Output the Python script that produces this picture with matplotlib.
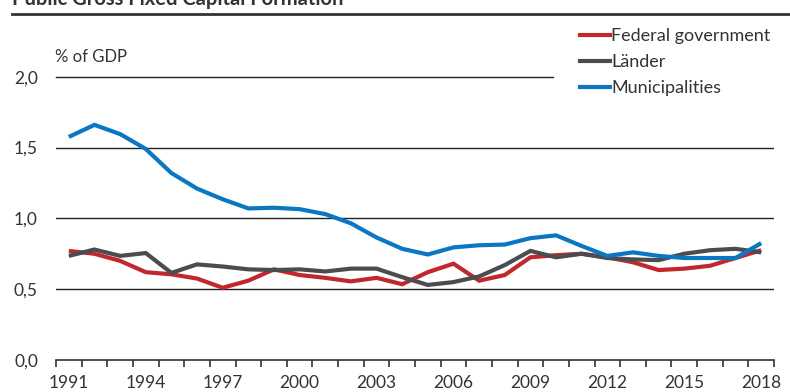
import matplotlib
matplotlib.use("Agg")
import matplotlib.pyplot as plt
from matplotlib.lines import Line2D
import numpy as np

plt.rcParams['font.family'] = ['Lato', 'DejaVu Sans']

years = list(range(1991, 2019))

federal = [0.77, 0.75, 0.70, 0.62, 0.605, 0.575, 0.51, 0.56, 0.64, 0.60,
           0.58, 0.555, 0.58, 0.535, 0.62, 0.68, 0.56, 0.60, 0.725, 0.74,
           0.75, 0.725, 0.69, 0.635, 0.645, 0.665, 0.72, 0.775]
laender = [0.735, 0.78, 0.735, 0.755, 0.615, 0.675, 0.66, 0.64, 0.635, 0.64,
           0.625, 0.645, 0.645, 0.585, 0.53, 0.55, 0.59, 0.67, 0.77, 0.725,
           0.75, 0.72, 0.71, 0.705, 0.75, 0.775, 0.785, 0.76]
municipalities = [1.575, 1.66, 1.595, 1.49, 1.32, 1.21, 1.135, 1.07, 1.075, 1.065,
                  1.03, 0.965, 0.865, 0.785, 0.745, 0.795, 0.81, 0.815, 0.86, 0.88,
                  0.805, 0.735, 0.76, 0.735, 0.72, 0.72, 0.72, 0.825]

series_names = ["Federal government", "Länder", "Municipalities"]
series_colors = ["#c1272d", "#4a4c4f", "#0b77c2"]

y_ticks = [0.0, 0.5, 1.0, 1.5, 2.0]
y_tick_labels = ["0,0", "0,5", "1,0", "1,5", "2,0"]
x_label_years = [1991, 1994, 1997, 2000, 2003, 2006, 2009, 2012, 2015, 2018]

text_color = "#333333"
W, H = 790, 392
fig = plt.figure(figsize=(W / 100, H / 100), dpi=100)

# plot area in pixel coordinates
left_px, right_px, top_px, bottom_px = 56, 774, 76.7, 360
ax = fig.add_axes([left_px / W, (H - bottom_px) / H,
                   (right_px - left_px) / W, (bottom_px - top_px) / H])
ax.set_xlim(years[0] - 0.5, years[-1] + 0.5)
ax.set_ylim(0, 2.0)

# horizontal grid
for v in y_ticks[1:-1]:
    ax.axhline(v, color="#222222", lw=1.0, zorder=1)
ax.axhline(2.0, xmin=0, xmax=(553 - left_px) / (right_px - left_px),
           color="#222222", lw=1.0, zorder=1, clip_on=False)

for vals, name, col in zip([federal, laender, municipalities], series_names, series_colors):
    ax.plot(years, vals, color=col, lw=3.0, label=name, zorder=3,
            solid_joinstyle="miter", solid_capstyle="butt")

for side in ["top", "right", "left"]:
    ax.spines[side].set_visible(False)
ax.spines["bottom"].set_color("#333333")
ax.spines["bottom"].set_linewidth(1.2)

ax.set_yticks(y_ticks)
ax.set_yticklabels(y_tick_labels)
ax.tick_params(axis="y", length=0, pad=13, labelsize=12.5, labelcolor=text_color)

ax.set_xticks(x_label_years)
ax.set_xticklabels([str(y) for y in x_label_years])
ax.set_xticks(np.arange(years[0] - 0.5, years[-1] + 1.0, 1.0), minor=True)
ax.tick_params(axis="x", which="major", length=0, pad=11, labelsize=12.5, labelcolor=text_color)
ax.tick_params(axis="x", which="minor", length=5, width=1.2, color="#333333", direction="out")

fig.text(left_px / W - 0.001, 1 - 57 / H, "% of GDP", fontsize=12, color=text_color,
         va="center", ha="left")

# legend
handles = [Line2D([0], [0], color=c, lw=3.0) for c in series_colors]
fig.legend(handles, series_names, loc="upper left",
           bbox_to_anchor=(580 / W, 1 - 28 / H), frameon=False,
           fontsize=13, handlelength=1.65, handletextpad=0.08,
           labelspacing=0.55, borderaxespad=0, borderpad=0,
           labelcolor=text_color)

# heading and rule
fig.text(12 / W, 1 - 5 / H, "Public Gross Fixed Capital Formation", fontsize=14.5,
         fontweight="bold", color=text_color, ha="left", va="baseline")
fig.add_artist(Line2D([12 / W, 1.0], [1 - 14 / H, 1 - 14 / H], color="#333333", lw=2.0,
                      transform=fig.transFigure))

fig.savefig("out.png", dpi=100)
